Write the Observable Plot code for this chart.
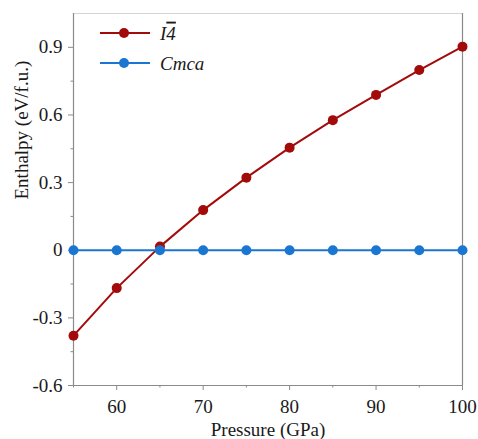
<!DOCTYPE html>
<html>
<head>
<meta charset="utf-8">
<script src="https://cdn.jsdelivr.net/npm/d3@7"></script>
<script src="https://cdn.jsdelivr.net/npm/@observablehq/plot@0.6"></script>
<style>
  html, body { margin: 0; padding: 0; background: #fff; }
  #chart { width: 478px; height: 439px; }
  #chart svg text { font-family: "Liberation Serif", "Tinos", "Liberation Sans", Arial, sans-serif; }
</style>
</head>
<body>
<div id="chart"></div>
<script>
const pressure = [55, 60, 65, 70, 75, 80, 85, 90, 95, 100];
const enthalpyI4 = [-0.379, -0.168, 0.016, 0.178, 0.322, 0.455, 0.577, 0.689, 0.799, 0.903];
const enthalpyCmca = [0, 0, 0, 0, 0, 0, 0, 0, 0, 0];
const seriesNames = ["I4", "Cmca"];
const xTicks = [60, 70, 80, 90, 100];
const xMinorTicks = [55, 65, 75, 85, 95];
const yTicks = [-0.6, -0.3, 0, 0.3, 0.6, 0.9];
const yTickLabels = ["-0.6", "-0.3", "0", "0.3", "0.6", "0.9"];
const yMinorTicks = [-0.45, -0.15, 0.15, 0.45, 0.75];
const xLabel = "Pressure (GPa)";
const yLabel = "Enthalpy (eV/f.u.)";

const colors = { I4: "#a30b0b", Cmca: "#1b76d1" };

const rows = [];
pressure.forEach((p, i) => {
  rows.push({ series: "I4", p, h: enthalpyI4[i] });
  rows.push({ series: "Cmca", p, h: enthalpyCmca[i] });
});

const font = "Liberation Serif, Tinos, Liberation Sans, Arial, sans-serif";
const axisColor = "#8a8a8a";
const textColor = "#1a1a1a";

const plot = Plot.plot({
  width: 478,
  height: 439,
  marginLeft: 73,
  marginRight: 16,
  marginTop: 13,
  marginBottom: 54,
  style: { fontFamily: font, fontSize: "19px", color: textColor, background: "#fff" },
  x: { domain: [55, 100] },
  y: { domain: [-0.6, 1.05] },
  marks: [
    // frame
    Plot.ruleY([1.05], { stroke: "#d4d4d4", strokeWidth: 1 }),
    Plot.ruleX([100], { stroke: axisColor, strokeWidth: 1.2 }),
    Plot.ruleX([55], { stroke: axisColor, strokeWidth: 1.2 }),
    Plot.ruleY([-0.6], { stroke: axisColor, strokeWidth: 1.2 }),
    // axes
    Plot.axisX(xMinorTicks, { tickSize: 2.5, stroke: axisColor, text: null, label: null }),
    Plot.axisX(xTicks, { tickSize: 5, tickPadding: 9, stroke: axisColor, label: null, fontSize: 19 }),
    Plot.axisY(yMinorTicks, { tickSize: 2.5, stroke: axisColor, text: null, label: null }),
    Plot.axisY(yTicks, { tickSize: 5, tickPadding: 6, stroke: axisColor, label: null, fontSize: 19,
      tickFormat: (d) => yTickLabels[yTicks.indexOf(d)] }),
    Plot.text([xLabel], { frameAnchor: "bottom", dy: 44, lineAnchor: "middle", fontSize: 19, fill: textColor }),
    Plot.text([yLabel], { frameAnchor: "left", dx: -52, rotate: -90, lineAnchor: "middle", fontSize: 19, fill: textColor }),
    // data
    Plot.line(rows, { x: "p", y: "h", z: "series", stroke: (d) => colors[d.series], strokeWidth: 2 }),
    Plot.dot(rows, { x: "p", y: "h", fill: (d) => colors[d.series], r: 5, stroke: "none" })
  ]
});

// Legend inside the frame (top-left)
const svg = d3.select(plot);
const lg = svg.append("g").attr("font-size", 19).attr("font-style", "italic");
const legendItems = seriesNames.map((s, i) => ({ s, y: 33 + i * 30 }));
legendItems.forEach(({ s, y }) => {
  lg.append("line").attr("x1", 100).attr("x2", 150).attr("y1", y).attr("y2", y)
    .attr("stroke", colors[s]).attr("stroke-width", 2);
  lg.append("circle").attr("cx", 124).attr("cy", y).attr("r", 5).attr("fill", colors[s]);
  const t = lg.append("text").attr("x", 160).attr("y", y).attr("dy", "0.35em")
    .attr("text-anchor", "start").attr("fill", textColor);
  if (s === "I4") {
    t.append("tspan").text("I");
    t.append("tspan").text("4").style("text-decoration", "overline");
  } else {
    t.append("tspan").text(s);
  }
});

document.getElementById("chart").appendChild(plot);
</script>
</body>
</html>
